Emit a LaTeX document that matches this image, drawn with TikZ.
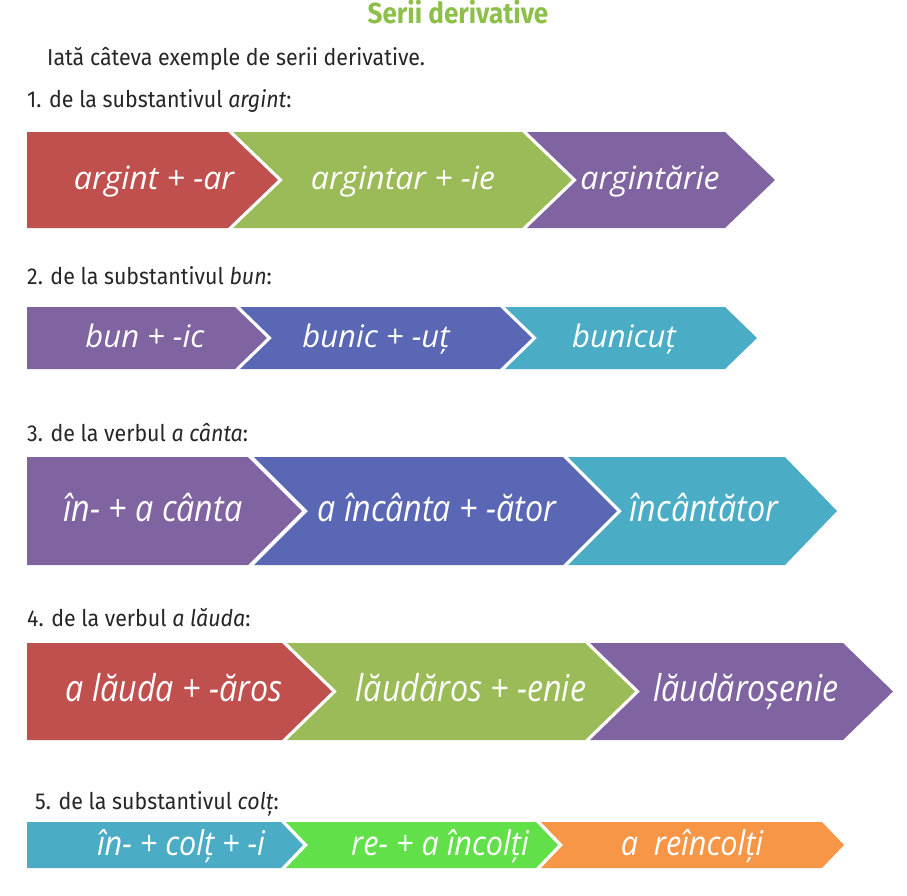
\documentclass[tikz,border=0pt]{standalone}
\usepackage{fontspec}
\setmainfont{Open Sans}
\newfontfamily\labelfont[FakeStretch=0.93]{Fira Sans}
\newfontfamily\titlefont[FakeStretch=0.9]{Fira Sans}
\newfontfamily\chevfont{Open Sans}
\newfontfamily\chevcond[FakeStretch=0.87]{Open Sans}
\newfontfamily\chevnarrow[FakeStretch=0.9]{Open Sans}
\usetikzlibrary{calc}

\definecolor{titlegreen}{HTML}{8DC04A}
\definecolor{chevred}{HTML}{C0504D}
\definecolor{chevgreen}{HTML}{9BBB59}
\definecolor{chevpurple}{HTML}{8064A2}
\definecolor{chevindigo}{HTML}{5A67B4}
\definecolor{chevteal}{HTML}{4BACC6}
\definecolor{chevlime}{HTML}{62E04A}
\definecolor{chevorange}{HTML}{F79646}

\tikzset{
  lbl/.style={anchor=base west, inner sep=0pt, text=black!85, font=\labelfont\fontsize{23}{27}\selectfont},
  chevtxt/.style={anchor=base, inner sep=0pt, text=white},
  rowone/.style={chevtxt, font=\chevfont\itshape\fontsize{32}{36}\selectfont},
  rowtwo/.style={chevtxt, font=\chevfont\itshape\fontsize{31}{36}\selectfont},
  rowbig/.style={chevtxt, font=\chevcond\itshape\fontsize{37}{42}\selectfont},
  rowsmall/.style={chevtxt, font=\chevnarrow\itshape\fontsize{34}{38}\selectfont}
}

% chevron: colour, left x, flat end x, top y, bottom y, notch depth, tip depth
\newcommand{\chev}[7]{%
  \fill[#1] (#2,#4) -- (#3,#4) -- ({#3+#7},{(#4+#5)/2}) -- (#3,#5) -- (#2,#5) -- ({#2+#6},{(#4+#5)/2}) -- cycle;
}

\begin{document}
\begin{tikzpicture}[x=1pt, y=-1pt]
    \useasboundingbox (0,0) rectangle (907,895);

    % Title and intro
    \node (title) [anchor=base, inner sep=0pt, text=titlegreen, font=\titlefont\bfseries\fontsize{29}{34}\selectfont] at (458,23) {Serii derivative};
    \node (intro) [lbl] at (47,65) {Iată câteva exemple de serii derivative.};

    % 1. argint
    \node (lbl1) [lbl] at (27,107) {1. de la substantivul \textit{argint}:};
    \chev{chevred}{27}{228}{132}{228}{0}{50}
    \chev{chevgreen}{233}{522}{132}{228}{50}{50}
    \chev{chevpurple}{527}{725}{132}{228}{50}{50}
    \node (argA) [rowone] at (154,189) {argint + -ar};
    \node (argB) [rowone] at (403,189) {argintar + -ie};
    \node (argC) [rowone] at (650,189) {argintărie};

    % 2. bun
    \node (lbl2) [lbl] at (27,284) {2. de la substantivul \textit{bun}:};
    \chev{chevpurple}{27}{235}{307}{369}{0}{32}
    \chev{chevindigo}{240}{500}{307}{369}{32}{32}
    \chev{chevteal}{505}{725}{307}{369}{32}{32}
    \node (bunA) [rowtwo] at (145,347) {bun + -ic};
    \node (bunB) [rowtwo] at (376,347) {bunic + -uț};
    \node (bunC) [rowtwo] at (624,347) {bunicuț};

    % 3. a canta
    \node (lbl3) [lbl] at (27,441) {3. de la verbul \textit{a cânta}:};
    \chev{chevpurple}{27}{248}{457}{565}{0}{54}
    \chev{chevindigo}{254}{563}{457}{565}{54}{54}
    \chev{chevteal}{568}{785}{457}{565}{54}{52}
    \node (cantA) [rowbig] at (153,521) {în- + a cânta};
    \node (cantB) [rowbig] at (437,521) {a încânta + -ător};
    \node (cantC) [rowbig] at (704,521) {încântător};

    % 4. a lauda
    \node (lbl4) [lbl] at (27,626) {4. de la verbul \textit{a lăuda}:};
    \chev{chevred}{27}{282}{643}{740}{0}{50}
    \chev{chevgreen}{287}{585}{643}{740}{50}{50}
    \chev{chevpurple}{590}{843}{643}{740}{50}{50}
    \node (laudA) [rowbig] at (174,701) {a lăuda + -ăros};
    \node (laudB) [rowbig] at (471,701) {lăudăros + -enie};
    \node (laudC) [rowbig] at (746,701) {lăudăroșenie};

    % 5. colt
    \node (lbl5) [lbl] at (35,809) {5. de la substantivul \textit{colț}:};
    \chev{chevteal}{27}{281}{822}{868}{0}{22}
    \chev{chevlime}{286}{536}{822}{868}{22}{22}
    \chev{chevorange}{541}{822}{822}{868}{22}{22}
    \node (coltA) [rowsmall] at (181,855) {în- + colț + -i};
    \node (coltB) [rowsmall] at (440,855) {re- + a încolți};
    \node (coltC) [rowsmall] at (692,855) {a\ \ reîncolți};
\end{tikzpicture}
\end{document}
